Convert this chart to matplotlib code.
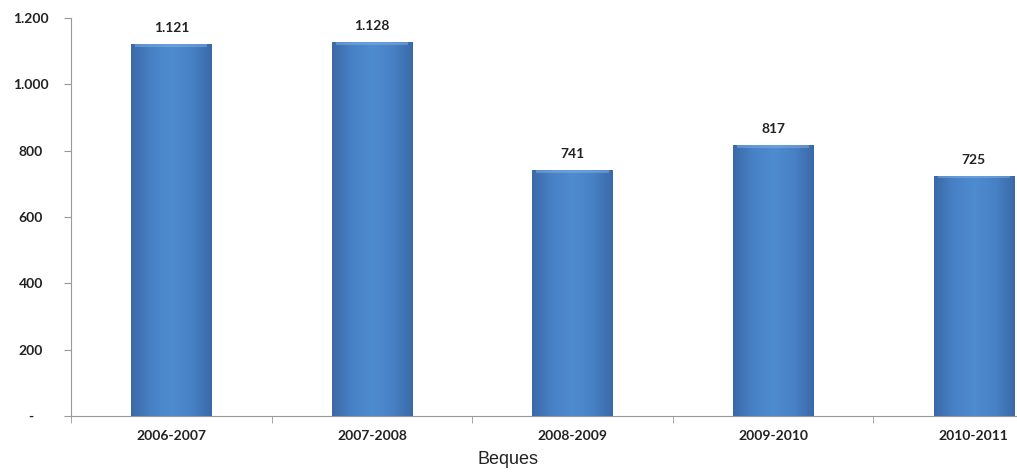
import numpy as np
import matplotlib.pyplot as plt
from matplotlib.colors import LinearSegmentedColormap

periods = ["2006-2007", "2007-2008", "2008-2009", "2009-2010", "2010-2011"]
values = [1121, 1128, 741, 817, 725]
value_labels = ["1.121", "1.128", "741", "817", "725"]
yticks = [0, 200, 400, 600, 800, 1000, 1200]
ytick_labels = ["-", "200", "400", "600", "800", "1.000", "1.200"]

fig = plt.figure(figsize=(10.17, 4.73), dpi=100)
ax = fig.add_axes([71 / 1017, 57 / 473, 1003 / 1017, 398 / 473])

x = np.arange(len(periods))
width = 0.4
bars = ax.bar(x, values, width=width, color="#4a7ebb", edgecolor="none", zorder=2)

# soft horizontal shading, like the bevelled Excel bars
cmap = LinearSegmentedColormap.from_list(
    "bevel", ["#3a69a8", "#4882c6", "#4f8bcf", "#4882c6", "#3a69a8"])
grad = np.linspace(0, 1, 256).reshape(1, -1)
for b in bars:
    x0, w, h = b.get_x(), b.get_width(), b.get_height()
    im = ax.imshow(grad, cmap=cmap, aspect="auto", extent=[x0, x0 + w, 0, h],
                   zorder=3)
    im.set_clip_path(b)
    ax.fill_between([x0 + w * 0.05, x0 + w * 0.95], h - 8, h,
                    color="#8ab8ea", alpha=0.45, zorder=4, linewidth=0)

for xi, v, lab in zip(x, values, value_labels):
    ax.text(xi, v + 30, lab, ha="center", va="bottom", fontsize=10,
            family="Lato", fontweight="bold", color="#222222")

ax.set_xlim(-0.5, len(periods) - 0.5)
ax.set_ylim(0, 1200)
ax.set_yticks(yticks)
ax.set_yticklabels(ytick_labels, family="Lato", fontweight="bold", fontsize=10,
                   color="#222222")
ax.set_xticks(x)
ax.set_xticklabels(periods, family="Lato", fontweight="bold", fontsize=10,
                   color="#222222")
ax.tick_params(axis="x", length=0, pad=10)
ax.set_xticks(np.arange(len(periods) + 1) - 0.5, minor=True)
ax.tick_params(axis="x", which="minor", length=5, color="#999999")
ax.tick_params(axis="y", length=5, color="#999999", pad=24)
for lab in ax.get_yticklabels():
    lab.set_horizontalalignment("center")

for s in ["top", "right"]:
    ax.spines[s].set_visible(False)
for s in ["left", "bottom"]:
    ax.spines[s].set_color("#999999")

ax.set_xlabel("Beques", family="Liberation Sans", fontsize=13, color="#222222")
ax.xaxis.set_label_coords((508 - 71) / 1003, -(451 - 416) / 398)

fig.savefig("out.png", dpi=100)
